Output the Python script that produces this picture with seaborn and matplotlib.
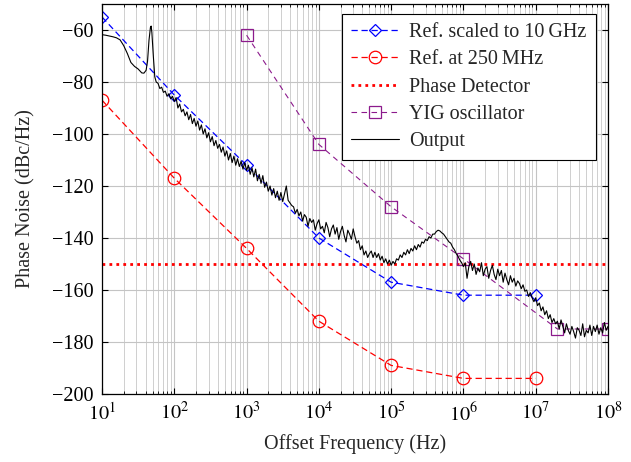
import numpy as np
import pandas as pd
import matplotlib
matplotlib.use("Agg")
import matplotlib.pyplot as plt
import seaborn as sns
from matplotlib.ticker import LogLocator, NullFormatter

# ---------------- data ----------------
ref10g_freq = [1e1, 1e2, 1e3, 1e4, 1e5, 1e6, 1e7]
ref10g_val = [-55, -85, -112, -140, -157, -162, -162]

ref250_freq = [1e1, 1e2, 1e3, 1e4, 1e5, 1e6, 1e7]
ref250_val = [-87, -117, -144, -172, -189, -194, -194]

pd_freq = [1e1, 1e8]
pd_val = [-150, -150]

yig_freq = [1e3, 1e4, 1e5, 1e6, 2e7, 1e8]
yig_val = [-62, -104, -128, -148, -175, -175]

# Output: smooth low-frequency part (log10 of frequency, dBc/Hz)
out_low_exp = [1.00, 1.05, 1.10, 1.15, 1.20, 1.25, 1.30, 1.35, 1.40, 1.45,
               1.50, 1.55, 1.58, 1.61, 1.63, 1.65, 1.67, 1.68, 1.69, 1.71, 1.73]
out_low_val = [-61.8, -62.0, -62.3, -62.6, -63.0, -63.8, -66.0, -69.0, -72.5, -74.0,
               -75.0, -76.5, -76.6, -75.5, -72.0, -64.0, -59.0, -58.5, -61.0, -70.0, -78.0]

# Output: measured noisy part, read at 40 points per decade starting at 10^1.75 Hz
out_noisy_start_exp = 1.75
out_noisy_step_exp = 0.025
out_noisy_val = [
    -80.0, -80.5, -82.5, -82.0, -84.0, -83.5, -85.5, -84.5, -86.5, -85.5,
    -87.5, -86.0, -90.0, -88.5, -91.5, -90.5, -93.0, -91.5, -94.5, -92.5,
    -96.0, -94.0, -97.0, -95.0, -98.5, -96.5, -100.0, -98.0, -101.5, -99.5,
    -103.0, -101.0, -104.5, -102.5, -105.5, -104.0, -107.0, -105.0, -108.5, -106.5,
    -110.0, -107.5, -111.0, -108.5, -112.0, -109.5, -112.5, -110.5, -113.5, -111.0,
    -114.0, -112.0, -115.5, -113.0, -116.5, -113.5, -118.0, -115.5, -119.0, -116.0,
    -120.5, -118.5, -122.0, -120.0, -123.5, -121.0, -124.5, -122.0, -125.5, -122.5,
    -126.0, -123.0, -120.0, -125.5, -126.5, -127.5, -128.0, -130.5, -129.0, -131.5,
    -130.0, -133.5, -131.0, -132.0, -135.5, -132.5, -134.0, -133.0, -137.0, -134.5,
    -133.0, -136.5, -135.5, -138.0, -134.0, -136.0, -139.5, -136.5, -135.0, -138.5,
    -136.0, -140.5, -137.5, -135.5, -139.0, -141.5, -137.0, -138.5, -140.5, -136.5,
    -139.5, -142.0, -141.0, -144.5, -143.0, -146.5, -145.0, -147.5, -146.0, -145.0,
    -147.5, -145.5, -147.5, -146.0, -148.5, -147.0, -149.5, -148.0, -150.0, -148.5,
    -150.5, -149.0, -150.0, -148.0, -148.5, -146.5, -147.5, -145.5, -146.5, -144.5,
    -146.0, -144.0, -145.0, -143.0, -144.5, -142.5, -143.5, -141.5, -142.0, -140.5,
    -141.0, -139.5, -140.0, -138.5, -138.5, -137.5, -137.0, -137.3, -138.0, -138.5,
    -139.5, -140.5, -141.5, -142.0, -143.5, -144.5, -146.0, -147.0, -148.5, -149.5,
    -151.0, -149.5, -155.5, -151.0, -149.0, -152.5, -150.0, -154.0, -151.5, -153.0,
    -149.5, -154.5, -152.0, -151.0, -155.5, -152.5, -150.5, -154.0, -156.0, -152.0,
    -154.5, -152.5, -157.0, -153.5, -156.0, -158.0, -154.5, -157.0, -155.5, -158.5,
    -156.5, -157.5, -159.5, -158.0, -160.5, -160.0, -162.5, -161.0, -163.0, -164.5,
    -163.0, -166.0, -165.0, -168.0, -166.5, -169.5, -168.0, -171.0, -169.5, -172.5,
    -171.0, -173.0, -172.0, -175.0, -171.5, -174.0, -176.5, -173.0, -175.5, -177.0,
    -174.0, -176.0, -178.5, -174.5, -175.5, -177.5, -173.0, -178.0, -175.5, -176.5,
    -173.5, -177.5, -174.0, -176.0, -173.5, -177.0, -174.5, -176.5, -172.5, -175.5,
    -174.0,
]

x_tick_exps = [1, 2, 3, 4, 5, 6, 7, 8]
y_ticks = [-200, -180, -160, -140, -120, -100, -80, -60]

# ---------------- style ----------------
sns.set_theme(style="white")
plt.rcParams["font.family"] = ["Liberation Serif", "DejaVu Serif"]
plt.rcParams["mathtext.fontset"] = "stix"
plt.rcParams["axes.unicode_minus"] = True

FS = 14.5

fig = plt.figure(figsize=(6.31, 4.62), dpi=100)
ax = fig.add_axes([102 / 631, 1 - 394 / 462, 506 / 631, 390 / 462])

out_exp = list(out_low_exp) + [out_noisy_start_exp + out_noisy_step_exp * i
                               for i in range(len(out_noisy_val))]
out_freq = [10 ** e for e in out_exp]
out_val = list(out_low_val) + list(out_noisy_val)

violet = "#8c1a8c"

sns.lineplot(x=ref10g_freq, y=ref10g_val, ax=ax, color="blue", lw=0.9,
             linestyle=(0, (5, 3)), marker="D", markersize=6,
             markerfacecolor="none", markeredgecolor="blue", markeredgewidth=0.9,
             label="Ref. scaled to 10\u2009GHz", estimator=None, sort=False)
sns.lineplot(x=ref250_freq, y=ref250_val, ax=ax, color="red", lw=0.9,
             linestyle=(0, (5, 3)), marker="o", markersize=9,
             markerfacecolor="none", markeredgecolor="red", markeredgewidth=0.9,
             label="Ref. at 250\u2009MHz", estimator=None, sort=False)
sns.lineplot(x=pd_freq, y=pd_val, ax=ax, color="red", lw=2.0,
             linestyle=(0, (1, 1.5)), label="Phase Detector",
             estimator=None, sort=False)
sns.lineplot(x=yig_freq, y=yig_val, ax=ax, color=violet, lw=0.8,
             linestyle=(0, (5, 4)), marker="s", markersize=9,
             markerfacecolor="none", markeredgecolor=violet, markeredgewidth=0.9,
             label="YIG oscillator", estimator=None, sort=False)
sns.lineplot(x=out_freq, y=out_val, ax=ax, color="black", lw=0.8,
             label="Output", estimator=None, sort=False)

ax.set_xscale("log")
ax.set_xlim(1e1, 1e8)
ax.set_ylim(-200, -50)
ax.set_xticks([10 ** e for e in x_tick_exps])
ax.set_xticklabels([f"$10^{{{e}}}$" for e in x_tick_exps])
ax.xaxis.set_minor_locator(LogLocator(base=10, subs=np.arange(2, 10), numticks=20))
ax.xaxis.set_minor_formatter(NullFormatter())
ax.set_yticks(y_ticks)
ax.set_yticklabels([f"\u2212{abs(v)}" for v in y_ticks])

ax.grid(True, which="major", color="#c4c4c4", lw=0.8)
ax.grid(True, which="minor", axis="x", color="#cfcfcf", lw=0.7)
ax.set_axisbelow(True)

ax.tick_params(which="both", direction="in", top=True, right=True,
               bottom=True, left=True, colors="black", labelsize=FS)
ax.tick_params(which="major", length=4, width=0.8, pad=6)
ax.tick_params(which="minor", length=2, width=0.6)
for s in ax.spines.values():
    s.set_color("black")
    s.set_linewidth(0.9)

ax.set_xlabel("Offset Frequency (Hz)", fontsize=FS, labelpad=6)
ax.set_ylabel("Phase Noise (dBc/Hz)", fontsize=FS, labelpad=12)

leg = ax.legend(loc="upper right", bbox_to_anchor=(0.976, 0.974), borderaxespad=0,
                fontsize=FS, frameon=True, fancybox=False, edgecolor="black",
                framealpha=1, handlelength=2.4, labelspacing=0.4,
                borderpad=0.45, handletextpad=0.5)
leg.get_frame().set_linewidth(0.8)

fig.savefig("out.png", dpi=100)
